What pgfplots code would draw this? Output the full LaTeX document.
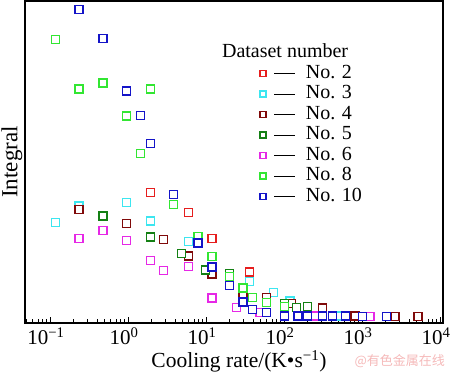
\documentclass[border=0pt]{standalone}
\usepackage{pgfplots}
\pgfplotsset{compat=1.18}
\usepackage{fontspec}
\setmainfont{Liberation Serif}
\newfontfamily\cjk{Noto Sans CJK SC}
\definecolor{cRed}{RGB}{230,30,30}
\definecolor{cCyan}{RGB}{60,230,240}
\definecolor{cDRed}{RGB}{128,10,10}
\definecolor{cDGreen}{RGB}{20,128,20}
\definecolor{cMag}{RGB}{230,40,230}
\definecolor{cGreen}{RGB}{50,230,50}
\definecolor{cBlue}{RGB}{20,20,200}
\definecolor{cWater}{RGB}{245,185,185}
\newcommand{\bigf}{\fontsize{20}{22}\selectfont}
\begin{document}
\begin{tikzpicture}
\path[use as bounding box] (-25pt,-51pt) rectangle (425pt,323pt);
\begin{axis}[
  at={(0pt,0pt)}, anchor=south west,
  scale only axis, width=418pt, height=322pt,
  xmode=log, xmin=0.0478, xmax=10929,
  ymin=0, ymax=322,
  ytick=\empty,
  xtick={0.1,1,10,100,1000,10000},
  xticklabels={10\textsuperscript{−1},10\textsuperscript{0},10\textsuperscript{1},10\textsuperscript{2},10\textsuperscript{3},10\textsuperscript{4}},
  minor xtick={0.05,0.06,0.07,0.08,0.09,0.2,0.3,0.4,0.5,0.6,0.7,0.8,0.9,2,3,4,5,6,7,8,9,20,30,40,50,60,70,80,90,200,300,400,500,600,700,800,900,2000,3000,4000,5000,6000,7000,8000,9000},
  xtick pos=left,
  tick align=inside,
  major tick length=6pt, minor tick length=3.5pt,
  every tick/.style={black, line width=0.8pt},
  axis line style={line width=1.2pt},
  xticklabel style={font=\fontsize{21}{23}\selectfont, anchor=base, yshift=-22pt, xshift=-4pt, inner sep=0pt},
  xlabel={Cooling rate/(K•s\textsuperscript{−1})},
  xlabel style={font=\fontsize{21.5}{23}\selectfont, at={(axis description cs:0.5,0)}, anchor=base, yshift=-45pt, xshift=5pt, inner sep=0pt},
  ylabel={Integral},
  ylabel style={font=\fontsize{23}{25}\selectfont, at={(axis description cs:0,0.5)}, anchor=center, yshift=13pt, inner sep=0pt},
  every axis plot/.append style={only marks, mark=square*, mark size=4pt, line width=1.4pt, mark options={fill=white}},
  legend image code/.code={
    \draw[#1, mark size=3pt] plot coordinates {(4pt,0pt)};
    \draw[black, line width=1pt] (15pt,0pt) -- (36pt,0pt);
    \path (45pt,0pt);
  },
  legend style={at={(0.562,0.807)}, anchor=north west, draw=none, fill=none, inner sep=0pt, row sep=0pt,
    font=\bigf, nodes={inner sep=1pt, text height=14pt, text depth=4.5pt}},
  legend cell align=left,
]
\addplot[cRed] coordinates {(1.954,130.7) (5.93,110.7) (11.94,84.3) (35.9,51)};
\addlegendentry{No. 2}
\addplot[cCyan] coordinates {(0.118,100.3) (0.235,117) (0.962,120.3) (1.954,102) (5.93,81.5) (35.9,41.3) (72.9,30.3) (119.4,22) (497,7)};
\addlegendentry{No. 3}
\addplot[cDRed] coordinates {(0.235,113.7) (0.962,99.7) (2.87,83.7) (5.93,67) (11.94,49) (29.8,29.5) (60,25.7) (124.7,19.5) (312,15) (813,7) (2649,6.5) (5224,6.5)};
\addlegendentry{No. 4}
\addplot[cDGreen] coordinates {(0.478,107) (1.954,86) (4.88,69.5) (9.79,53) (19.9,49.7) (100.9,19.5) (145.5,15.3) (200,16.5)};
\addlegendentry{No. 5}
\addplot[cMag] coordinates {(0.235,84.7) (0.478,92.3) (0.962,82.7) (1.954,62.3) (2.87,52.5) (5.93,56.7) (11.94,25) (24.6,15.5) (49.2,10.5) (249,7) (1268,6.5)};
\addlegendentry{No. 6}
\addplot[cGreen] coordinates {(0.118,283.7) (0.235,234) (0.478,240) (0.962,207) (1.455,169.7) (1.954,234) (3.85,118.3) (7.89,86.7) (11.94,66.7) (19.9,46.3) (29.8,35) (39.7,25.7) (60,20.3) (100.9,16.5)};
\addlegendentry{No. 8}
\addplot[cBlue] coordinates {(0.235,313.7) (0.478,284.3) (0.962,232) (1.455,207.7) (1.954,179.7) (3.85,128.3) (7.89,80) (11.94,56) (19.9,37.7) (29.8,21) (39.7,13.7) (60,10.7) (100.9,7) (151,7) (200,7) (312,7) (416,7) (618,7) (1014,6.5) (2075,6.5)};
\addlegendentry{No. 10}
\node[anchor=base west, font=\bigf, inner sep=0pt] at (rel axis cs:0.471,0.826) {Dataset number};
\end{axis}
\node[anchor=east, text=cWater, font=\cjk\fontsize{13}{14}\selectfont, inner sep=0pt] at (420pt,-38pt) {@有色金属在线};
\end{tikzpicture}
\end{document}
